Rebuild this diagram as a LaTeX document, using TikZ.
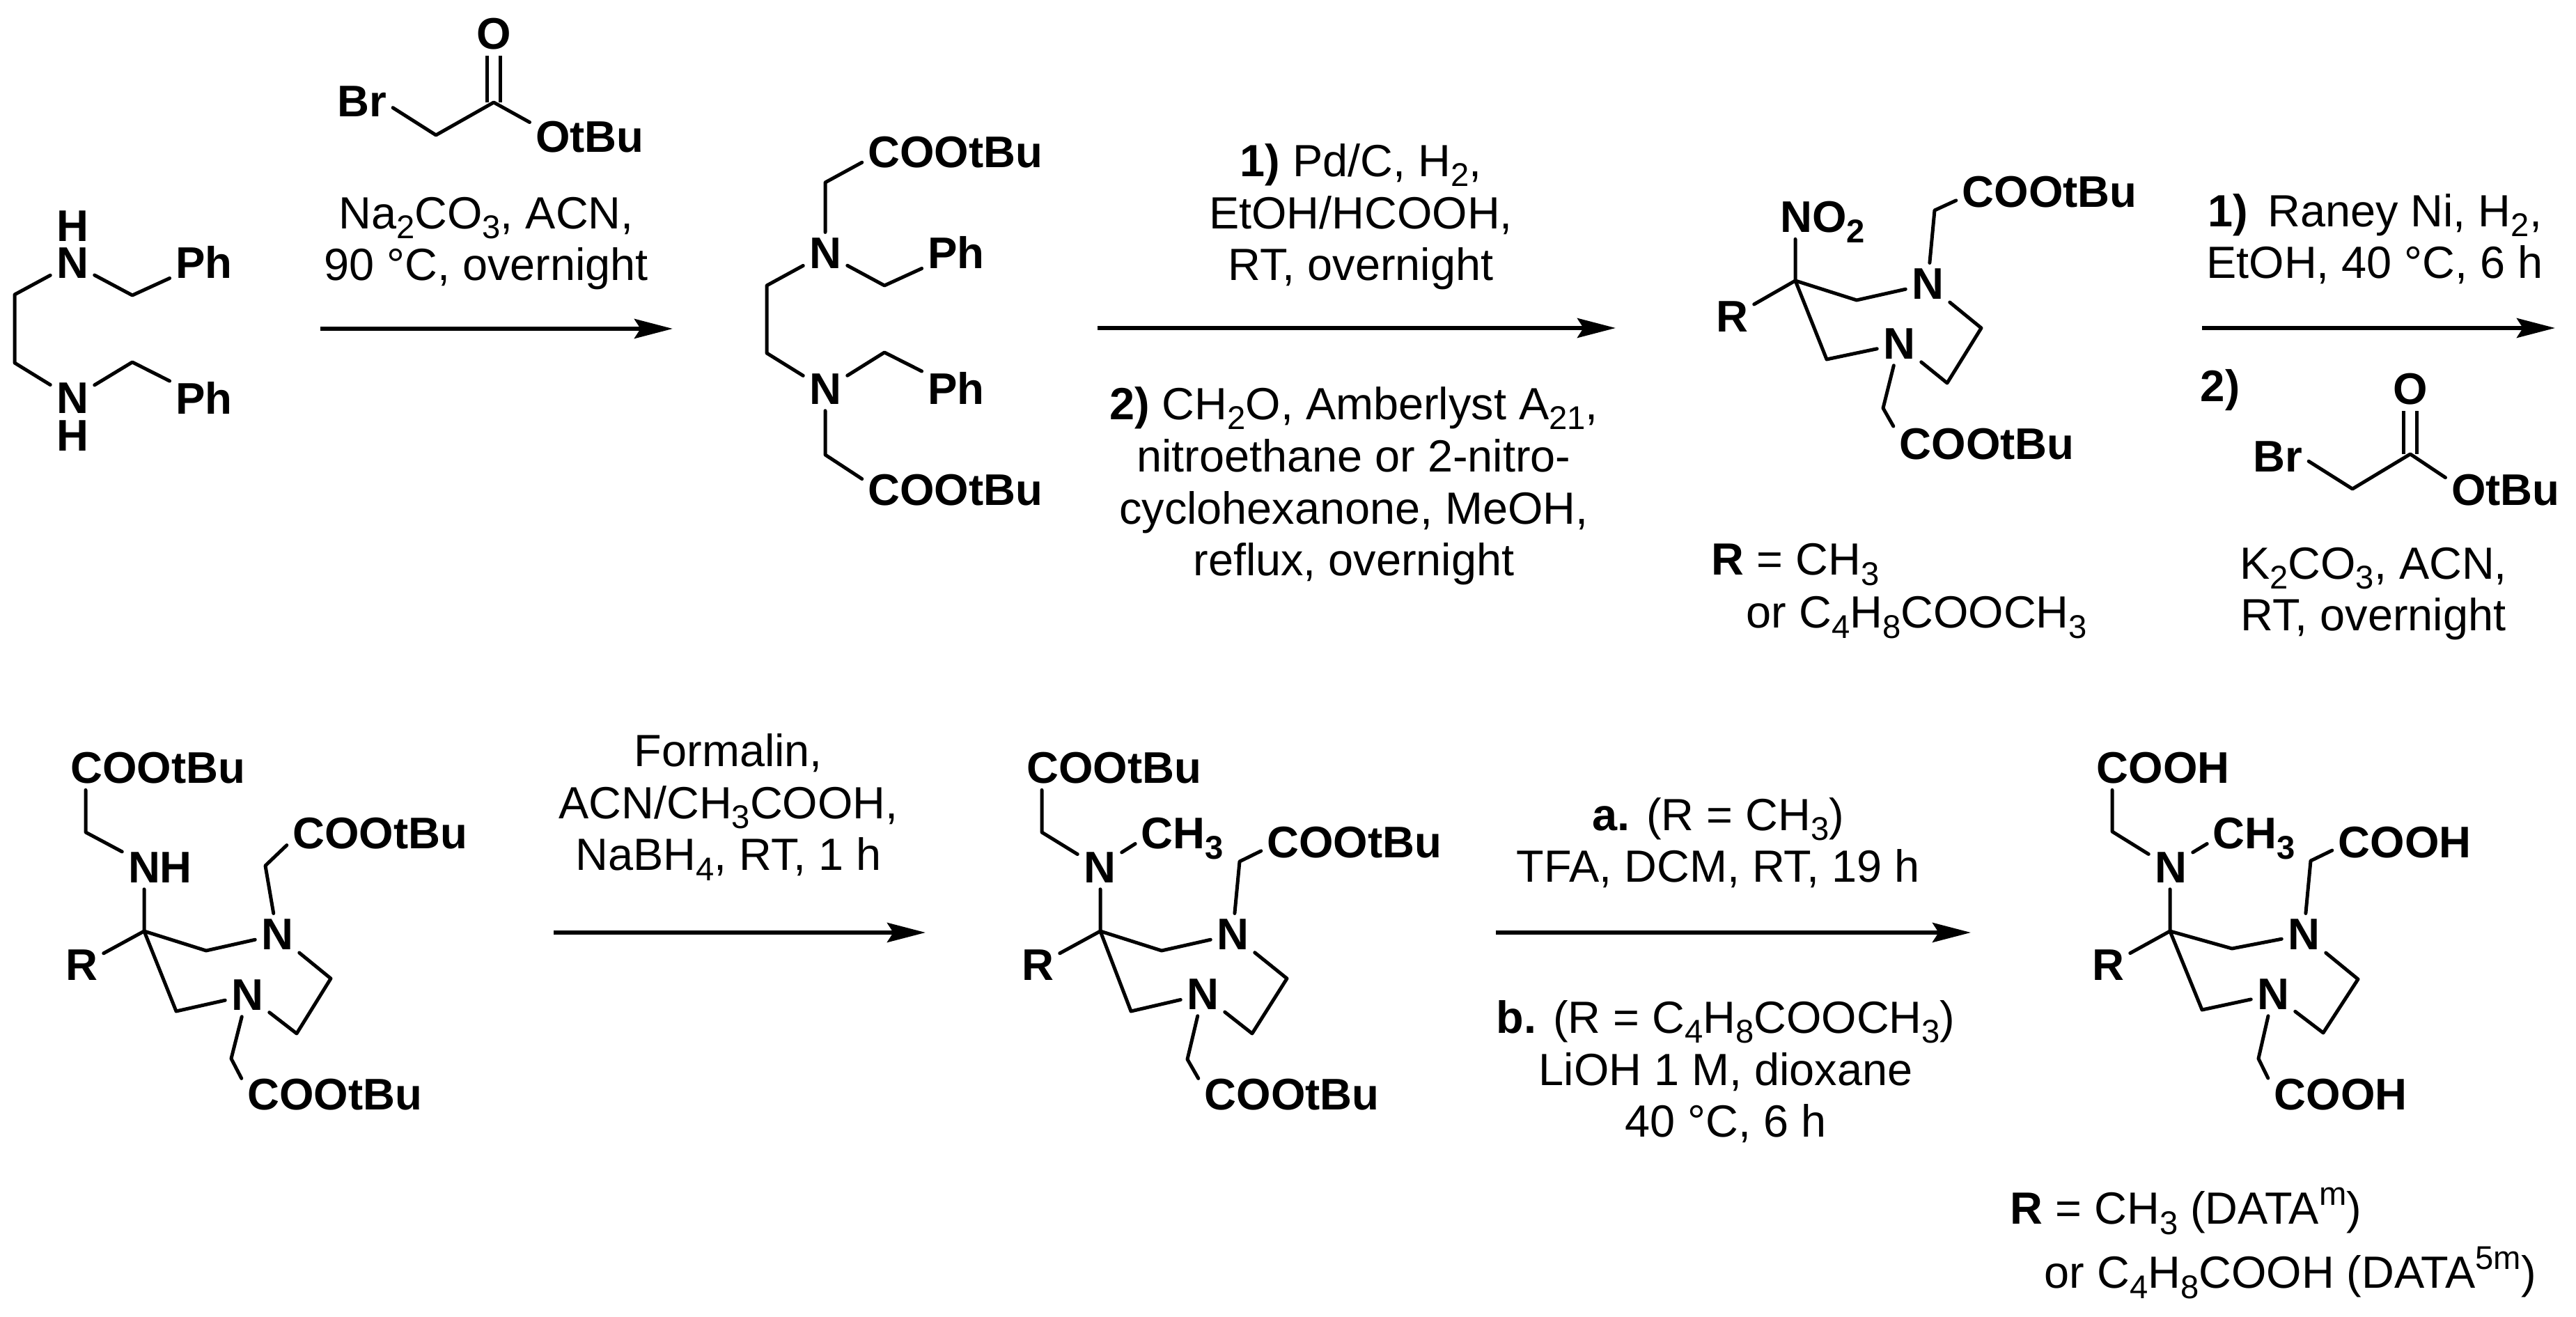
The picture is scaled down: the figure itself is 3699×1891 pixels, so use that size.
\documentclass[tikz,border=0pt]{standalone}
\usepackage{fontspec}
\setmainfont{Liberation Sans}
\usetikzlibrary{arrows.meta, positioning}
\newcommand{\lo}[1]{\raisebox{-3.6pt}[0pt][0pt]{\fontsize{11.8}{11.8}\selectfont #1}}
\newcommand{\hi}[1]{\raisebox{6.8pt}[0pt][0pt]{\fontsize{11.8}{11.8}\selectfont #1}}
\begin{document}
\begin{tikzpicture}[
  x=0.25pt, y=-0.25pt,
  atom/.style={font=\fontsize{15.9}{18}\selectfont\bfseries, inner sep=2pt, anchor=base},
  reagent/.style={font=\fontsize{16.2}{18.7}\selectfont, align=center, inner sep=0pt, anchor=base},
  note/.style={font=\fontsize{16.2}{18.7}\selectfont, inner sep=0pt, anchor=base west},
  bond/.style={line width=1.25pt, line cap=round, line join=round},
  dbond/.style={line width=1.25pt, double, double distance=3.5pt},
  arrow/.style={-{Stealth[length=13.75pt, width=7pt, inset=2.2pt]}, line width=1.5pt}
]
\useasboundingbox (0,0) rectangle (3699,1891);

% Diamine
\node[atom] (AN1) at (104,400) {N};
\node[atom, inner sep=0pt] (AH1) at (104,347) {H};
\node[atom] (AN2) at (104,594) {N};
\node[atom, inner sep=0pt] (AH2) at (104,648) {H};
\node[atom] (APh1) at (293,400) {Ph};
\node[atom] (APh2) at (293,595) {Ph};
\foreach \n/\x/\y in {Aa/21/423, Ab/21/521, Ac/190/424, Ad/190/520} {
  \coordinate (\n) at (\x,\y);
}
\draw[bond] (AN1) -- (Aa) -- (Ab) -- (AN2);
\draw[bond] (AN1) -- (Ac) -- (APh1);
\draw[bond] (AN2) -- (Ad) -- (APh2);

% Bromoacetate above first arrow
\node[atom] (BrA) at (520,168) {Br};
\node[atom] (OA) at (709,71) {O};
\node[atom] (OtA) at (847,219) {OtBu};
\coordinate (Ra) at (626,194);
\coordinate (Rb) at (709,147);
\draw[dbond] (Rb) -- (OA);
\draw[bond] (BrA.-11) -- (Ra) -- (Rb) -- (OtA.166);

% First arrow
\coordinate (S1) at (460,472);
\coordinate (T1) at (966,472);
\draw[arrow] (S1) -- (T1);
\node[reagent] (L1) at (698,403) {Na\lo{2}CO\lo{3}, ACN,\\90 °C, overnight};

% Dibenzyl diester
\node[atom] (BN1) at (1185,386) {N};
\node[atom] (BN2) at (1185,581) {N};
\node[atom] (BPh1) at (1373,386) {Ph};
\node[atom] (BPh2) at (1373,581) {Ph};
\node[atom] (BE1) at (1372,241) {COOtBu};
\node[atom] (BE2) at (1372,726) {COOtBu};
\foreach \n/\x/\y in {Ba/1185/262, Bb/1101/410, Bc/1101/507, Bd/1185/653, Be/1270/410, Bf/1270/506} {
  \coordinate (\n) at (\x,\y);
}
\draw[bond] (BE1.186) -- (Ba) -- (BN1) -- (Bb) -- (Bc) -- (BN2) -- (Bd) -- (BE2.173);
\draw[bond] (BN1) -- (Be) -- (BPh1);
\draw[bond] (BN2) -- (Bf) -- (BPh2);

% Second arrow
\coordinate (S2) at (1576,471);
\coordinate (T2) at (2320,471);
\draw[arrow] (S2) -- (T2);
\node[reagent] (L2a) at (1954,403) {\textbf{1)} Pd/C, H\lo{2},\\EtOH/HCOOH,\\RT, overnight};
\node[reagent] (L2b) at (1944,827) {\textbf{2)} CH\lo{2}O, Amberlyst A\lo{21},\\nitroethane or 2-nitro-\\cyclohexanone, MeOH,\\reflux, overnight};

% Nitro bicycle
\node[atom] (CNO) at (2617,334) {NO\lo{2}};
\node[atom] (CR) at (2487,477) {R};
\node[atom] (CN1) at (2768,430) {N};
\node[atom] (CN2) at (2727,516) {N};
\node[atom] (CE1) at (2943,298) {COOtBu};
\node[atom] (CE2) at (2853,660) {COOtBu};
\foreach \n/\x/\y in {Ca/2578/403, Cb/2666/431, Cc/2778/302, Cd/2845/471, Ce/2796/550, Cf/2623/516, Cg/2704/586} {
  \coordinate (\n) at (\x,\y);
}
\draw[bond] (Ca |- CNO.south) -- (Ca) -- (CR);
\draw[bond] (Ca) -- (Cb) -- (CN1) -- (Cc) -- (CE1.185);
\draw[bond] (CN1) -- (Cd) -- (Ce) -- (CN2) -- (Cf) -- (Ca);
\draw[bond] (CN2) -- (Cg) -- (CE2.169);
\node[note] (CNa) at (2457,826) {\textbf{R} = CH\lo{3}};
\node[note] (CNb) at (2507,902) {or C\lo{4}H\lo{8}COOCH\lo{3}};

% Third arrow
\coordinate (S3) at (3162,471);
\coordinate (T3) at (3669,471);
\draw[arrow] (S3) -- (T3);
\node[reagent] (L3a) at (3410,400) {\textbf{1)}\, Raney Ni, H\lo{2},\\EtOH, 40 °C, 6 h};
\node[note, font=\fontsize{15.9}{18}\selectfont\bfseries] (L3b) at (3159,577) {2)};
\node[atom] (BrB) at (3271,678) {Br};
\node[atom] (OB) at (3461,581) {O};
\node[atom] (OtB) at (3598,726) {OtBu};
\coordinate (Rc) at (3378,702);
\coordinate (Rd) at (3461,652);
\draw[dbond] (Rd) -- (OB);
\draw[bond] (BrB.-8) -- (Rc) -- (Rd) -- (OtB.168);
\node[reagent] (L3c) at (3408,906) {K\lo{2}CO\lo{3}, ACN,\\RT, overnight};

% Secondary amine
\node[atom] (DE1) at (227,1125) {COOtBu};
\node[atom] (DNH) at (230,1268) {NH};
\node[atom] (DR) at (117,1408) {R};
\node[atom] (DN1) at (398,1364) {N};
\node[atom] (DN2) at (355,1451) {N};
\node[atom] (DE2) at (546,1219) {COOtBu};
\node[atom] (DE3) at (481,1594) {COOtBu};
\foreach \n/\x/\y in {Da/123/1195, Db/207/1337, Dc/296/1365, Dd/381/1243, De/475/1405, Df/426/1484, Dg/253/1452, Dh/332/1520} {
  \coordinate (\n) at (\x,\y);
}
\draw[bond] (Da |- DE1.south) -- (Da) -- (DNH.157);
\draw[bond] (Db |- DNH.south) -- (Db) -- (DR);
\draw[bond] (Db) -- (Dc) -- (DN1) -- (Dd) -- (DE2.187);
\draw[bond] (DN1) -- (De) -- (Df) -- (DN2) -- (Dg) -- (Db);
\draw[bond] (DN2) -- (Dh) -- (DE3.170);

% Fourth arrow
\coordinate (S4) at (795,1339);
\coordinate (T4) at (1329,1339);
\draw[arrow] (S4) -- (T4);
\node[reagent] (L4) at (1046,1250) {Formalin,\\ACN/CH\lo{3}COOH,\\NaBH\lo{4}, RT, 1 h};

% Methylated ester
\node[atom] (EE1) at (1600,1125) {COOtBu};
\node[atom] (EN) at (1579,1268) {N};
\node[atom] (EMe) at (1698,1219) {CH\lo{3}};
\node[atom] (ER) at (1490,1408) {R};
\node[atom] (EN1) at (1770,1364) {N};
\node[atom] (EN2) at (1727,1450) {N};
\node[atom] (EE2) at (1945,1232) {COOtBu};
\node[atom] (EE3) at (1855,1594) {COOtBu};
\foreach \n/\x/\y in {Ea/1496/1195, Eb/1580/1337, Ec/1668/1365, Ed/1780/1237, Ee/1848/1405, Ef/1798/1484, Eg/1624/1452, Eh/1705/1521} {
  \coordinate (\n) at (\x,\y);
}
\draw[bond] (Ea |- EE1.south) -- (Ea) -- (EN);
\draw[bond] (EN.35) -- (EMe.192);
\draw[bond] (Eb |- EN.south) -- (Eb) -- (ER);
\draw[bond] (Eb) -- (Ec) -- (EN1) -- (Ed) -- (EE2.185);
\draw[bond] (EN1) -- (Ee) -- (Ef) -- (EN2) -- (Eg) -- (Eb);
\draw[bond] (EN2) -- (Eh) -- (EE3.170);

% Fifth arrow
\coordinate (S5) at (2148,1339);
\coordinate (T5) at (2830,1339);
\draw[arrow] (S5) -- (T5);
\node[reagent] (L5a) at (2467,1267) {\textbf{a.} (R = CH\lo{3})\\TFA, DCM, RT, 19 h};
\node[reagent] (L5b) at (2478,1633) {\textbf{b.} (R = C\lo{4}H\lo{8}COOCH\lo{3})\\LiOH 1 M, dioxane\\40 °C, 6 h};

% Final acid
\node[atom] (FE1) at (3106,1125) {COOH};
\node[atom] (FN) at (3117,1268) {N};
\node[atom] (FMe) at (3237,1219) {CH\lo{3}};
\node[atom] (FR) at (3027,1408) {R};
\node[atom] (FN1) at (3308,1364) {N};
\node[atom] (FN2) at (3264,1450) {N};
\node[atom] (FE2) at (3453,1232) {COOH};
\node[atom] (FE3) at (3361,1594) {COOH};
\foreach \n/\x/\y in {Fa/3033/1194, Fb/3116/1337, Fc/3205/1362, Fd/3318/1236, Fe/3386/1406, Ff/3336/1483, Fg/3162/1450, Fh/3243/1520} {
  \coordinate (\n) at (\x,\y);
}
\draw[bond] (Fa |- FE1.south) -- (Fa) -- (FN);
\draw[bond] (FN.35) -- (FMe.192);
\draw[bond] (Fb |- FN.south) -- (Fb) -- (FR);
\draw[bond] (Fb) -- (Fc) -- (FN1) -- (Fd) -- (FE2.186);
\draw[bond] (FN1) -- (Fe) -- (Ff) -- (FN2) -- (Fg) -- (Fb);
\draw[bond] (FN2) -- (Fh) -- (FE3.167);
\node[note] (FNa) at (2886,1758) {\textbf{R} = CH\lo{3} (DATA\hi{m})};
\node[note] (FNb) at (2935,1850) {or C\lo{4}H\lo{8}COOH (DATA\hi{5m})};

\end{tikzpicture}
\end{document}
